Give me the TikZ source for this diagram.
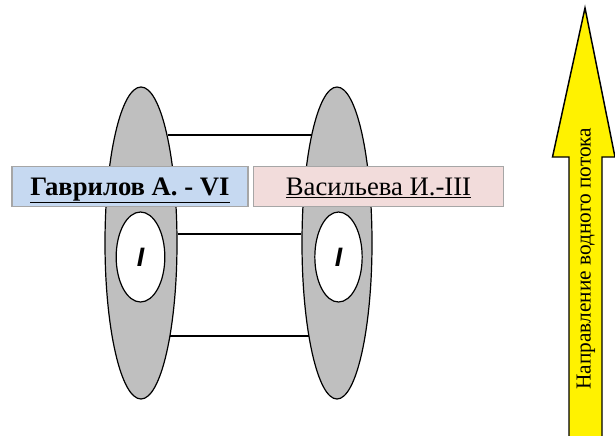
\documentclass[tikz,border=0pt]{standalone}
\usepackage{fontspec}
\setmainfont{Liberation Serif}
\newfontfamily\labelsans{Liberation Sans}
\usetikzlibrary{shapes.geometric}
\definecolor{ovalgray}{HTML}{BFBFBF}
\definecolor{boxblue}{HTML}{C6D9F1}
\definecolor{boxpink}{HTML}{F2DCDB}
\definecolor{boxedge}{HTML}{A6A6A6}

\begin{document}
\begin{tikzpicture}[
    x=0.75pt, y=-0.75pt,
    % 外椭圆样式
    outer oval/.style={
        ellipse,             % 椭圆节点
        draw,                % 绘制边框
        fill=ovalgray,       % 填充灰色
        line width=0.9pt,
        minimum height=234pt,
        inner sep=0pt
    },
    % 内椭圆样式
    inner oval/.style={
        ellipse,
        draw,
        fill=white,
        line width=0.9pt,
        minimum height=67.5pt,
        inner sep=0pt,
        font=\labelsans\bfseries\itshape\fontsize{20}{20}\selectfont
    },
    % 姓名框样式
    name box/.style={
        rectangle,
        draw=boxedge,
        line width=0.8pt,
        minimum height=30.5pt,
        inner sep=0pt,
        text height=15pt,
        text depth=2.2pt,
        font=\fontsize{20}{22}\selectfont
    },
    % 连线样式
    link/.style={
        draw,
        line width=1.1pt
    }
]

\useasboundingbox (0,0) rectangle (615,436);

% 水流箭头
\draw[fill=yellow, line width=1.1pt] (569,437) -- (569,157) -- (552.5,157) -- (585,8)
    -- (615,157) -- (602,157) -- (602,437);
\node[rotate=90, font=\fontsize{16}{18}\selectfont] (flowlabel) at (586,258.5) {Направление водного потока};

% 灰色椭圆
\node[outer oval, minimum width=54pt] (leftoval) at (141,243) {};
\node[outer oval, minimum width=52.5pt] (rightoval) at (337,243) {};

% 连线的高度
\coordinate (toplevel) at (240,135);
\coordinate (midlevel) at (240,234.2);
\coordinate (lowlevel) at (240,336);

% 椭圆之间的连线
\draw[link] (leftoval.76.5 |- toplevel) -- (rightoval.103.2 |- toplevel);
\draw[link] (leftoval.14 |- midlevel) -- (rightoval.165.6 |- midlevel);
\draw[link] (leftoval.-73 |- lowlevel) -- (rightoval.-106.8 |- lowlevel);

% 姓名框
\node[name box, fill=boxblue, minimum width=177pt] (gavrilov) at (130,186.5)
    {\bfseries\underline{Гаврилов А. - VI}};
\node[name box, fill=boxpink, minimum width=188pt] (vasilieva) at (378.5,186.5)
    {\underline{Васильева И.-III}};

% 白色内椭圆
\node[inner oval, minimum width=36.5pt] (leftinner) at (140.5,257) {I};
\node[inner oval, minimum width=35.5pt] (rightinner) at (338.5,257) {I};

\end{tikzpicture}
\end{document}
